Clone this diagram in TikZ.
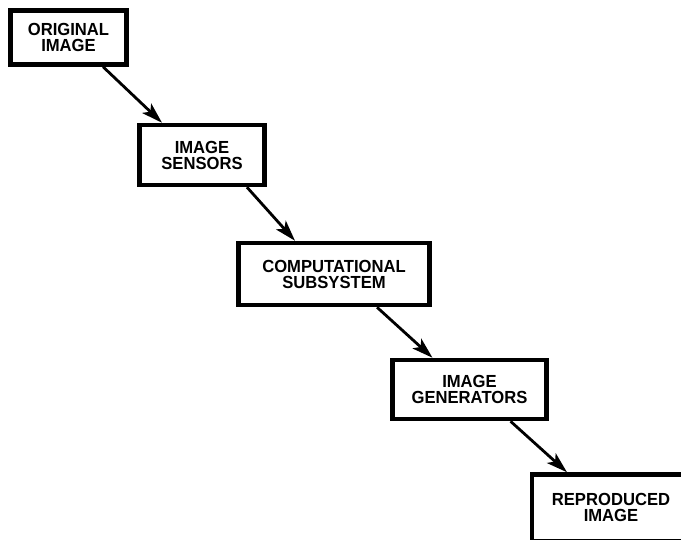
\documentclass[tikz,border=0pt]{standalone}
\usepackage{fontspec}
\setmainfont{Liberation Sans}
\newfontfamily\boxfont[FakeStretch=0.95]{Liberation Sans}
\usepackage{tikz}
\usetikzlibrary{arrows.meta}
\tikzset{
  stagetext/.style={align=center, font=\boxfont\fontsize{17.5}{16}\selectfont\bfseries},
  stage/.style={draw, line width=4.5pt, inner sep=0pt, stagetext},
  flow/.style={-{Stealth[length=21pt,width=13pt,inset=5pt]}, line width=2.8pt}
}

\begin{document}
\begin{tikzpicture}[x=1pt,y=-1pt]
\useasboundingbox (0,0) rectangle (681,540);

\node[stage, minimum width=116pt, minimum height=54pt] (orig) at (68.5,37.5) {ORIGINAL\\IMAGE};

\node[stage, minimum width=125pt, minimum height=60pt] (sens) at (202,155) {IMAGE\\SENSORS};

\node[stage, minimum width=191pt, minimum height=62pt] (comp) at (334,274) {COMPUTATIONAL\\SUBSYSTEM};

\node[stage, minimum width=154pt, minimum height=59pt] (gen) at (469.5,389.5) {IMAGE\\GENERATORS};

% runs off the page on the right
\node[stage, minimum width=240pt, minimum height=66.5pt,
  label={[stagetext, xshift=-41pt]center:REPRODUCED\\IMAGE}] (repr) at (652,507.75) {};

\draw[flow] ([xshift=34.5pt]orig.south) -- ([xshift=-40pt]sens.north);

\draw[flow] ([xshift=45pt]sens.south) -- ([xshift=-39pt]comp.north);

\draw[flow] ([xshift=43pt]comp.south) -- ([xshift=-37pt]gen.north);

\draw[flow] ([xshift=41pt]gen.south) -- ([xshift=-85pt]repr.north);
\end{tikzpicture}
\end{document}
